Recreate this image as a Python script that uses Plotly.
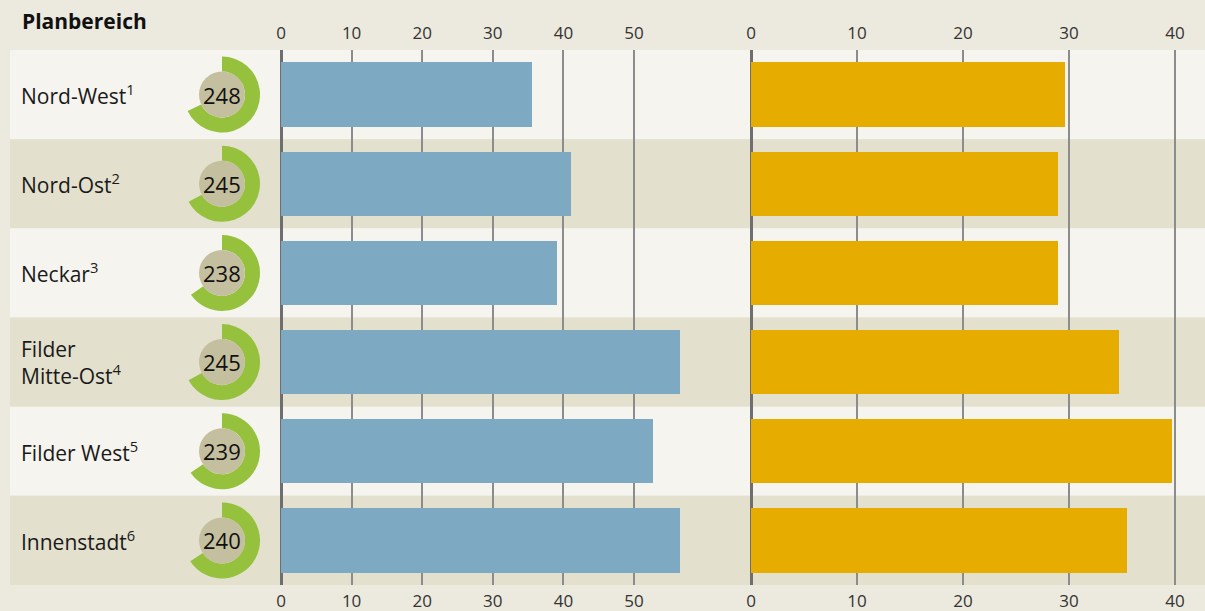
import plotly.graph_objects as go

# ---- data -------------------------------------------------------------
regions = ["Nord-West<sup>1</sup>", "Nord-Ost<sup>2</sup>", "Neckar<sup>3</sup>",
           "Filder<br>Mitte-Ost<sup>4</sup>", "Filder West<sup>5</sup>", "Innenstadt<sup>6</sup>"]
days = [248, 245, 238, 245, 239, 240]
left_values = [35.5, 41.1, 39.1, 56.5, 52.7, 56.5]
right_values = [29.6, 28.9, 28.9, 34.7, 39.7, 35.4]
left_ticks = [0, 10, 20, 30, 40, 50]
right_ticks = [0, 10, 20, 30, 40]
DAYS_PER_YEAR = 365

# ---- style ------------------------------------------------------------
W, H = 1205, 611
FONT = "Open Sans"
BG = "#ECE9DE"
ROW_LIGHT = "#F5F4EE"
ROW_DARK = "#E3E0CD"
BLUE = "#7EA9C2"
GOLD = "#E6AC00"
GREEN = "#95C13D"
BEIGE = "#C4BF9E"
GRID = "#8C8C8C"
ZERO = "#6E6E6E"
TICK_COLOR = "#333333"

ROW_TOP, ROW_BOTTOM = 50, 585          # pixel extent of the row block
n = len(regions)
row_h = (ROW_BOTTOM - ROW_TOP) / n


def py(pixel_y):
    return 1 - pixel_y / H


def px(pixel_x):
    return pixel_x / W


# left panel: 0 at x=281, 7.06 px per unit
L0, LS, LRANGE = 281, 7.06, [-1, 58]
# right panel: 0 at x=751, 10.6 px per unit
R0, RS, RRANGE = 751, 10.6, [-0.7, 41.5]
left_dom = [px(L0 + LS * LRANGE[0]), px(L0 + LS * LRANGE[1])]
right_dom = [px(R0 + RS * RRANGE[0]), px(R0 + RS * RRANGE[1])]
y_dom = [py(ROW_BOTTOM), py(ROW_TOP)]

fig = go.Figure()
idx = list(range(n))

fig.add_trace(go.Bar(x=left_values, y=idx, orientation="h", width=0.72,
                     marker=dict(color=BLUE, line=dict(width=0)),
                     xaxis="x", yaxis="y", hoverinfo="skip", showlegend=False))
fig.add_trace(go.Bar(x=right_values, y=idx, orientation="h", width=0.72,
                     marker=dict(color=GOLD, line=dict(width=0)),
                     xaxis="x2", yaxis="y", hoverinfo="skip", showlegend=False))
# empty traces so the bottom label axes are rendered
for ax, rng in (("x3", LRANGE), ("x4", RRANGE)):
    fig.add_trace(go.Scatter(x=rng, y=[0, 0], mode="markers", marker=dict(opacity=0),
                             xaxis=ax, yaxis="y", hoverinfo="skip", showlegend=False))

# ring charts: share of the year
R_OUT, R_IN = 38, 23
DONUT_X = 222
shapes = []
annotations = []
for i, d in enumerate(days):
    cy = ROW_TOP + row_h * (i + 0.5)
    fig.add_trace(go.Pie(values=[d, DAYS_PER_YEAR - d], sort=False, direction="clockwise",
                         rotation=0, hole=R_IN / R_OUT,
                         marker=dict(colors=[GREEN, "rgba(0,0,0,0)"], line=dict(width=0)),
                         textinfo="none", hoverinfo="skip", showlegend=False,
                         domain=dict(x=[px(DONUT_X - R_OUT), px(DONUT_X + R_OUT)],
                                     y=[py(cy + R_OUT), py(cy - R_OUT)])))
    shapes.append(dict(type="circle", xref="paper", yref="paper",
                       xsizemode="pixel", ysizemode="pixel",
                       xanchor=px(DONUT_X), yanchor=py(cy),
                       x0=-R_IN, x1=R_IN, y0=-R_IN, y1=R_IN,
                       fillcolor=BEIGE, line=dict(width=0), layer="above"))
    annotations.append(dict(x=px(DONUT_X), y=py(cy), xref="paper", yref="paper",
                            text=str(d), showarrow=False, xanchor="center", yanchor="middle",
                            font=dict(family=FONT, size=22, color="#111111")))
    annotations.append(dict(x=px(19), y=i, xref="paper", yref="y", text=regions[i],
                            showarrow=False, xanchor="left", yanchor="middle", align="left",
                            font=dict(family=FONT, size=21, color="#1A1A1A")))

# alternating row bands
for i in range(n):
    shapes.append(dict(type="rect", xref="paper", yref="y", x0=px(10), x1=1,
                       y0=i - 0.5, y1=i + 0.5, fillcolor=ROW_LIGHT if i % 2 == 0 else ROW_DARK,
                       line=dict(width=0), layer="below"))

annotations.append(dict(x=px(20), y=py(21), xref="paper", yref="paper",
                        text="<b>Planbereich</b>", showarrow=False,
                        xanchor="left", yanchor="middle",
                        font=dict(family=FONT, size=21, color="#111111")))

tickfont = dict(family=FONT, size=17, color=TICK_COLOR)
grid_axis = dict(showgrid=True, gridcolor=GRID, gridwidth=1.5,
                 zeroline=True, zerolinecolor=ZERO, zerolinewidth=3,
                 showline=False, ticks="", tickfont=tickfont, fixedrange=True,
                 ticklabelstandoff=7)
label_axis = dict(showgrid=False, zeroline=False, showline=False, ticks="",
                  tickfont=tickfont, fixedrange=True, ticklabelstandoff=4)

fig.update_layout(
    width=W, height=H,
    margin=dict(l=0, r=0, t=0, b=0),
    paper_bgcolor=BG, plot_bgcolor="rgba(0,0,0,0)",
    bargap=0,
    xaxis=dict(domain=left_dom, range=LRANGE, side="top", anchor="y",
               tickvals=left_ticks, **grid_axis),
    xaxis2=dict(domain=right_dom, range=RRANGE, side="top", anchor="y",
                tickvals=right_ticks, **grid_axis),
    xaxis3=dict(domain=left_dom, range=LRANGE, side="bottom", anchor="y",
                overlaying="x", tickvals=left_ticks, **label_axis),
    xaxis4=dict(domain=right_dom, range=RRANGE, side="bottom", anchor="y",
                overlaying="x2", tickvals=right_ticks, **label_axis),
    yaxis=dict(domain=y_dom, range=[n - 0.5, -0.5], showgrid=False, zeroline=False,
               showticklabels=False, ticks="", fixedrange=True),
    shapes=shapes,
    annotations=annotations,
)

fig.write_html("out.html")
